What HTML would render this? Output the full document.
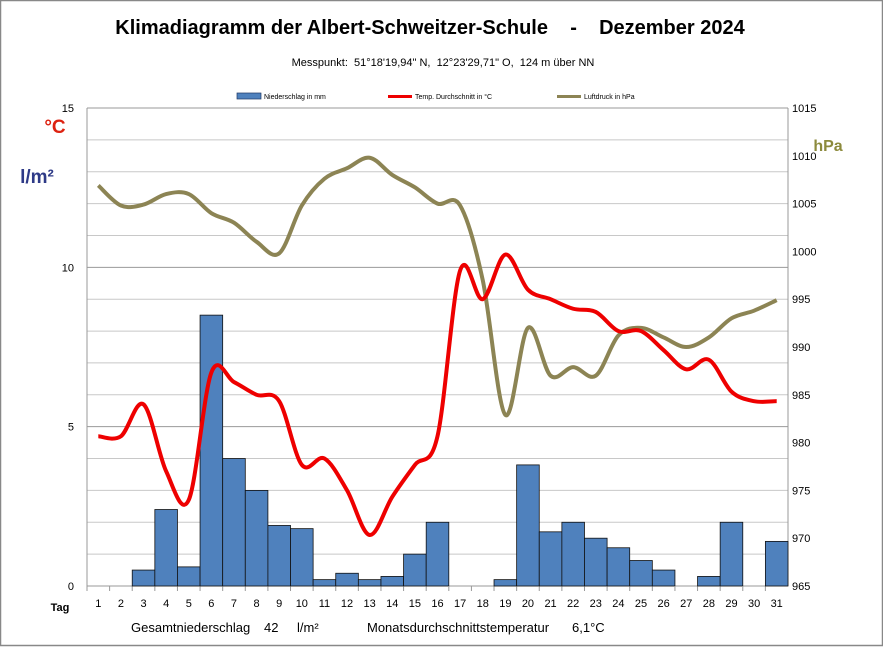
<!DOCTYPE html>
<html><head><meta charset="utf-8"><style>
body{margin:0;background:#fff}
svg{display:block;font-family:"Liberation Sans",sans-serif}
text{white-space:pre}
</style></head><body>
<svg id="c" width="883" height="647" xmlns="http://www.w3.org/2000/svg">
<rect x="0.5" y="0.5" width="882" height="645" fill="#fff" stroke="#888" stroke-width="1.5"/>
<text x="430" y="34" text-anchor="middle" font-size="20" font-weight="bold">Klimadiagramm der Albert-Schweitzer-Schule    -    Dezember 2024</text>
<text x="443" y="66" text-anchor="middle" font-size="11">Messpunkt:  51°18'19,94" N,  12°23'29,71" O,  124 m über NN</text>
<rect x="237" y="93" width="24" height="6" fill="#4f81bd" stroke="#1f3864" stroke-width="0.7"/>
<text x="264" y="99" font-size="7">Niederschlag in mm</text>
<rect x="388" y="95" width="24" height="3" fill="#e00"/>
<text x="415" y="99" font-size="7">Temp. Durchschnitt in °C</text>
<rect x="557" y="95" width="24" height="3" fill="#8c8454"/>
<text x="584" y="99" font-size="7">Luftdruck in hPa</text>
<text x="55" y="133" text-anchor="middle" font-size="19" font-weight="bold" fill="#d21">°C</text>
<text x="37" y="183" text-anchor="middle" font-size="19" font-weight="bold" fill="#2e3a87">l/m²</text>
<text x="828" y="151" text-anchor="middle" font-size="16" font-weight="bold" fill="#8c8a3c">hPa</text>
<text x="60" y="611" text-anchor="middle" font-size="11" font-weight="bold">Tag</text>
<text x="131" y="632" font-size="13">Gesamtniederschlag</text>
<text x="264" y="632" font-size="13">42</text>
<text x="297" y="632" font-size="13">l/m²</text>
<text x="367" y="632" font-size="13">Monatsdurchschnittstemperatur</text>
<text x="572" y="632" font-size="13">6,1°C</text>
<g id="g"></g>
</svg>
<script>
var g=document.getElementById('g'),h='';
var X0=87,W=701,Y0=586,YT=108,sl=W/31;
function yL(v){return Y0-(Y0-YT)*v/15}
function yR(v){return Y0-(Y0-YT)*(v-965)/50}
for(var i=0;i<=15;i++){var y=yL(i);h+='<line x1="'+X0+'" x2="'+(X0+W)+'" y1="'+y+'" y2="'+y+'" stroke="'+(i%5==0?'#999':'#c8c8c8')+'" stroke-width="1"/>';}
h+='<line x1="'+X0+'" x2="'+X0+'" y1="'+YT+'" y2="'+Y0+'" stroke="#999"/>';
h+='<line x1="'+(X0+W)+'" x2="'+(X0+W)+'" y1="'+YT+'" y2="'+Y0+'" stroke="#999"/>';
for(var i=0;i<=15;i+=5)h+='<text x="74" y="'+(yL(i)+4)+'" text-anchor="end" font-size="11">'+i+'</text>';
for(var v=965;v<=1015;v+=5)h+='<text x="792" y="'+(yR(v)+4)+'" font-size="11">'+v+'</text>';
var P=[0,0,0.5,2.4,0.6,8.5,4,3,1.9,1.8,0.2,0.4,0.2,0.3,1,2,0,0,0.2,3.8,1.7,2,1.5,1.2,0.8,0.5,0,0.3,2,0,1.4];
var T=[4.7,4.7,5.7,3.6,2.7,6.7,6.4,6.0,5.8,3.8,4.0,3.0,1.6,2.8,3.8,4.7,9.9,9.0,10.4,9.3,9.0,8.7,8.6,8.0,8.0,7.4,6.8,7.1,6.1,5.8,5.8];
var L=[1006.9,1004.8,1004.9,1006,1006,1004,1003,1001,999.8,1004.8,1007.6,1008.7,1009.8,1008,1006.7,1005,1004.8,997,982.9,992,987,987.9,987,991.2,992,991,990,991,993,993.8,994.9];
for(var i=0;i<31;i++){var x=X0+sl*i;
 h+='<line x1="'+x+'" x2="'+x+'" y1="'+Y0+'" y2="'+(Y0+5)+'" stroke="#999"/>';
 h+='<text x="'+(x+sl/2)+'" y="607" text-anchor="middle" font-size="11">'+(i+1)+'</text>';
 if(P[i]>0)h+='<rect x="'+x+'" y="'+yL(P[i])+'" width="'+sl+'" height="'+(Y0-yL(P[i]))+'" fill="#4f81bd" stroke="#111" stroke-width="0.8"/>';}
function path(a,f){var p=a.map(function(v,i){return [X0+sl*(i+0.5),f(v)]});var d='M'+p[0];
 for(var i=0;i<p.length-1;i++){var p0=p[i-1]||p[i],p1=p[i],p2=p[i+1],p3=p[i+2]||p2;
 d+=' C'+(p1[0]+(p2[0]-p0[0])/6)+','+(p1[1]+(p2[1]-p0[1])/6)+' '+(p2[0]-(p3[0]-p1[0])/6)+','+(p2[1]-(p3[1]-p1[1])/6)+' '+p2[0]+','+p2[1];}return d;}
h+='<path d="'+path(L,yR)+'" fill="none" stroke="#8c8454" stroke-width="4"/>';
h+='<path d="'+path(T,yL)+'" fill="none" stroke="#e00" stroke-width="4"/>';
g.innerHTML=h;
</script>
</body></html>
